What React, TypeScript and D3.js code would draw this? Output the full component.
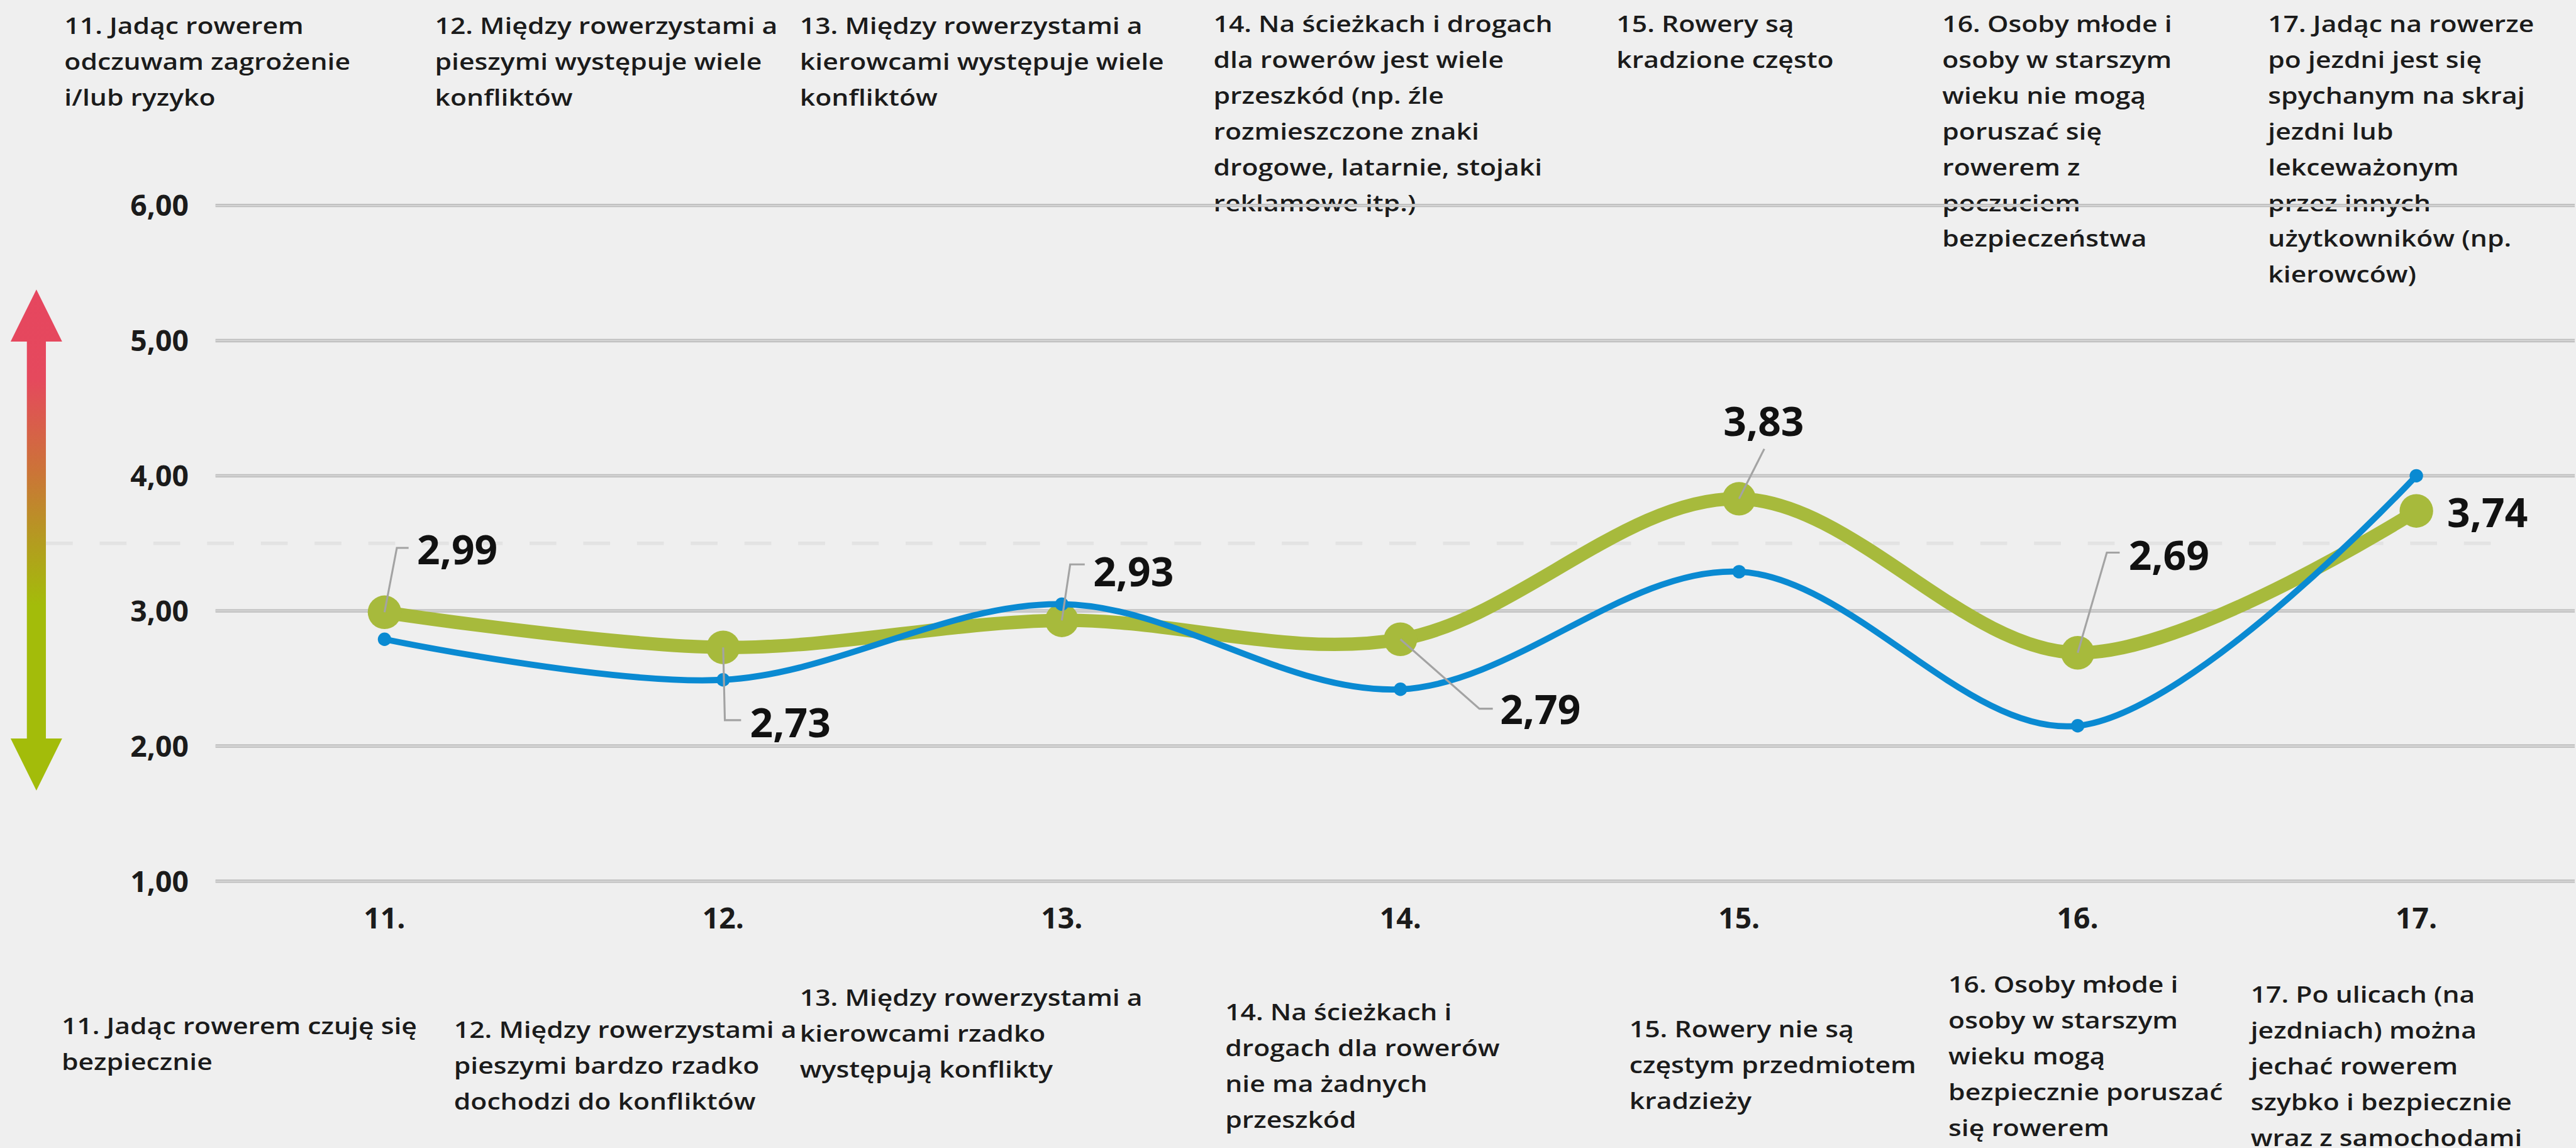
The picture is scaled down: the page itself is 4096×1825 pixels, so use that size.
import React from "react";
import * as d3 from "d3";

// ---------- data ----------
const categories = ["11.", "12.", "13.", "14.", "15.", "16.", "17."];
const greenValues = [2.99, 2.73, 2.93, 2.79, 3.83, 2.69, 3.74];
const blueValues = [2.79, 2.49, 3.05, 2.42, 3.29, 2.15, 4.0];
const yTicks = [1, 2, 3, 4, 5, 6];
const referenceValue = 3.5;

const topLabels: string[][] = [
  ["11. Jadąc rowerem", "odczuwam zagrożenie", "i/lub ryzyko"],
  ["12. Między rowerzystami a", "pieszymi występuje wiele", "konfliktów"],
  ["13. Między rowerzystami a", "kierowcami występuje wiele", "konfliktów"],
  ["14. Na ścieżkach i drogach", "dla rowerów jest wiele", "przeszkód (np. źle", "rozmieszczone znaki", "drogowe, latarnie, stojaki", "reklamowe itp.)"],
  ["15. Rowery są", "kradzione często"],
  ["16. Osoby młode i", "osoby w starszym", "wieku nie mogą", "poruszać się", "rowerem z", "poczuciem", "bezpieczeństwa"],
  ["17. Jadąc na rowerze", "po jezdni jest się", "spychanym na skraj", "jezdni lub", "lekceważonym", "przez innych", "użytkowników (np.", "kierowców)"],
];
const bottomLabels: string[][] = [
  ["11. Jadąc rowerem czuję się", "bezpiecznie"],
  ["12. Między rowerzystami a", "pieszymi bardzo rzadko", "dochodzi do konfliktów"],
  ["13. Między rowerzystami a", "kierowcami rzadko", "występują konflikty"],
  ["14. Na ścieżkach i", "drogach dla rowerów", "nie ma żadnych", "przeszkód"],
  ["15. Rowery nie są", "częstym przedmiotem", "kradzieży"],
  ["16. Osoby młode i", "osoby w starszym", "wieku mogą", "bezpiecznie poruszać", "się rowerem"],
  ["17. Po ulicach (na", "jezdniach) można", "jechać rowerem", "szybko i bezpiecznie", "wraz z samochodami"],
];

// ---------- layout (reference pixel units, scaled at render) ----------
const W = 4600;
const S = 0.89;
const topX = [115, 777, 1429, 2168, 2888, 3470, 4052];
const topY = [61, 61, 61, 57, 57, 57, 57];
const bottomX = [110, 811, 1429, 2189, 2911, 3481, 4021];
const bottomY = [1847, 1854, 1797, 1823, 1853, 1773, 1791];
const LINE_H = 64;
const TEXT_STRETCH = 1.17;
// label leader layout: elbow dx/dy, tick end dx, text dx, baseline dy, anchor
const labelLayout = [
  { ex: 22, ey: -115, tx: 43, lx: 58, ly: -86, anchor: "start", leader: true },
  { ex: 3, ey: 130, tx: 32, lx: 48, ly: 160, anchor: "start", leader: true },
  { ex: 15, ey: -100, tx: 41, lx: 56, ly: -61, anchor: "start", leader: true },
  { ex: 141, ey: 124, tx: 165, lx: 178, ly: 151, anchor: "start", leader: true },
  { ex: 45, ey: -89, tx: 45, lx: 44, ly: -112, anchor: "middle", leader: true },
  { ex: 52, ey: -179, tx: 75, lx: 91, ly: -148, anchor: "start", leader: true },
  { ex: 0, ey: 0, tx: 0, lx: 55, ly: 29, anchor: "start", leader: false },
];

const FONT = "'Open Sans', 'DejaVu Sans', sans-serif";
const TEXT_COLOR = "#1b1b1b";
const GREEN = "#A7BA3C";
const BLUE = "#0A8AD2";

function Block({ lines, x0, y0 }: { lines: string[]; x0: number; y0: number }) {
  return (
    <text
      transform={`translate(${x0},${y0}) scale(${TEXT_STRETCH},1)`}
      fontFamily={FONT}
      fontWeight={600}
      fontSize={41}
      fill={TEXT_COLOR}
    >
      {lines.map((l, j) => (
        <tspan key={j} x={0} y={j * LINE_H}>{l}</tspan>
      ))}
    </text>
  );
}

export default function App() {
  const x = d3.scalePoint<string>().domain(categories).range([687, 4317]);
  const y = d3.scaleLinear().domain([1, 6]).range([1574, 367]);
  const fmt = (v: number) => d3.format(".2f")(v).replace(".", ",");

  const line = d3
    .line<number>()
    .x((_, i) => x(categories[i]) as number)
    .y((d) => y(d))
    .curve(d3.curveCatmullRom.alpha(0.5));

  const gridX0 = 385;
  const gridX1 = W;

  // arrow geometry
  const ax = 65, shaftHalf = 17, headHalf = 46;
  const topTip = 517, topBase = 610, botBase = 1319, botTip = 1412;
  const arrowPts = [
    [ax, topTip], [ax + headHalf, topBase], [ax + shaftHalf, topBase],
    [ax + shaftHalf, botBase], [ax + headHalf, botBase], [ax, botTip],
    [ax - headHalf, botBase], [ax - shaftHalf, botBase], [ax - shaftHalf, topBase],
    [ax - headHalf, topBase],
  ].map((p) => p.join(",")).join(" ");

  return (
    <svg
      width={4096}
      height={1825}
      style={{ position: "fixed", left: 0, top: 0, display: "block" }}
    >
      <defs>
        <linearGradient id="arrowGrad" gradientUnits="userSpaceOnUse" x1={0} y1={topTip} x2={0} y2={botTip}>
          <stop offset="0" stopColor="#E6465F" />
          <stop offset="0.18" stopColor="#E5495D" />
          <stop offset="0.36" stopColor="#CC7338" />
          <stop offset="0.5" stopColor="#B49B20" />
          <stop offset="0.63" stopColor="#A3BC0A" />
          <stop offset="1" stopColor="#A3BC0A" />
        </linearGradient>
      </defs>
      <rect x={0} y={0} width={4096} height={1825} fill="#EFEFEF" />
      <g transform={`scale(${S})`}>
        {/* category texts */}
        {topLabels.map((lines, i) => (
          <Block key={"t" + i} lines={lines} x0={topX[i]} y0={topY[i]} />
        ))}
        {bottomLabels.map((lines, i) => (
          <Block key={"b" + i} lines={lines} x0={bottomX[i]} y0={bottomY[i]} />
        ))}

        {/* arrow */}
        <polygon points={arrowPts} fill="url(#arrowGrad)" />

        {/* gridlines */}
        {yTicks.map((t) => (
          <g key={"g" + t}>
            <line x1={gridX0} x2={gridX1} y1={y(t)} y2={y(t)} stroke="#BDBDBD" strokeWidth={6} />
            <line x1={gridX0} x2={gridX1} y1={y(t)} y2={y(t)} stroke="#D9D9D9" strokeWidth={2} />
            <text x={337} y={y(t)} dy="0.36em" textAnchor="end" fontFamily={FONT} fontWeight={700} fontSize={52} fill={TEXT_COLOR}>
              {fmt(t)}
            </text>
          </g>
        ))}

        {/* reference dashed line */}
        <line x1={82} x2={4450} y1={y(referenceValue)} y2={y(referenceValue)} stroke="#E3E3E3" strokeWidth={6} strokeDasharray="48 48" />

        {/* x labels */}
        {categories.map((c) => (
          <text key={"x" + c} x={x(c)} y={1658} textAnchor="middle" fontFamily={FONT} fontWeight={700} fontSize={52} fill={TEXT_COLOR}>
            {c}
          </text>
        ))}

        {/* green series */}
        <path d={line(greenValues) || ""} fill="none" stroke={GREEN} strokeWidth={24} strokeLinejoin="round" />
        {greenValues.map((v, i) => (
          <circle key={"gm" + i} cx={x(categories[i])} cy={y(v)} r={30} fill={GREEN} />
        ))}

        {/* blue series */}
        <path d={line(blueValues) || ""} fill="none" stroke={BLUE} strokeWidth={11} strokeLinejoin="round" />
        {blueValues.map((v, i) => (
          <circle key={"bm" + i} cx={x(categories[i])} cy={y(v)} r={12} fill={BLUE} />
        ))}

        {/* data labels */}
        {greenValues.map((v, i) => {
          const px = x(categories[i]) as number;
          const py = y(v);
          const L = labelLayout[i];
          return (
            <g key={"dl" + i}>
              {L.leader && (
                <polyline
                  points={`${px},${py} ${px + L.ex},${py + L.ey} ${px + L.tx},${py + L.ey}`}
                  fill="none"
                  stroke="#A3A3A3"
                  strokeWidth={3.5}
                />
              )}
              <text x={px + L.lx} y={py + L.ly} textAnchor={L.anchor as any} fontFamily={FONT} fontWeight={700} fontSize={72} fill="#111">
                {fmt(v)}
              </text>
            </g>
          );
        })}
      </g>
    </svg>
  );
}
